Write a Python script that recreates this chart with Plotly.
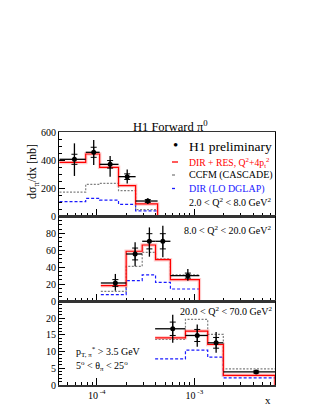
import math
import plotly.graph_objects as go
from plotly.subplots import make_subplots

# ---------------- data ----------------
# Panel 1: 2 < Q2 < 8 GeV2
p1_edges = [4.15e-5, 7.7e-5, 1.07e-4, 1.67e-4, 2.5e-4, 4.2e-4]
p1_x = [5.9e-5, 9.3e-5, 1.37e-4, 2.05e-4, 3.33e-4]
p1_data = [405, 455, 369, 281, 107]
p1_tot_up = [114, 88, 60, 52, 19]
p1_tot_dn = [119, 91, 88, 48, 21]
p1_stat = [36, 36, 27, 20, 10]
p1_red = [383, 443, 348, 217, 86]
p1_ccfm = [171, 226, 233, 181, 45]
p1_dglap = [102, 126, 114, 83, 36]

# Panel 2: 8 < Q2 < 20 GeV2
p2_edges = [1.1e-4, 2.0e-4, 2.92e-4, 4.0e-4, 5.68e-4, 1.125e-3]
p2_x = [1.55e-4, 2.47e-4, 3.46e-4, 4.75e-4, 8.57e-4]
p2_data = [21.3, 55.6, 70.6, 70.6, 30.0]
p2_tot_up = [10.7, 13.8, 16.4, 18.4, 7.9]
p2_tot_dn = [9.1, 14.6, 18.2, 18.9, 6.0]
p2_stat = [4, 7, 9, 9, 3]
p2_red = [18.1, 58.8, 66.2, 48.9, 25.2]
p2_ccfm = [11.4, 41.0, 57.6, 49.7, 30.8]
p2_dglap = [7.5, 24.0, 30.8, 22.0, 14.2]

# Panel 3: 20 < Q2 < 70 GeV2
p3_edges = [3.96e-4, 8.1e-4, 1.37e-3, 1.98e-3, 6.7e-3]
p3_x = [6.0e-4, 1.07e-3, 1.67e-3, 4.3e-3]
p3_data = [16.8, 14.8, 12.6, 3.9]
p3_tot_up = [4.2, 3.3, 3.2, 0.6]
p3_tot_dn = [4.2, 3.4, 3.0, 0.6]
p3_stat = [2.0, 1.8, 1.6, 0.3]
p3_red = [14.1, 16.1, 12.1, 2.9]
p3_ccfm = [13.6, 19.6, 15.1, 4.8]
p3_dglap = [7.8, 10.4, 8.3, 2.1]

y_ranges = [[0, 600], [0, 100.5], [0, 25.1]]
y_ticks = [[0, 200, 400, 600], [0, 20, 40, 60, 80], [0, 5, 10, 15, 20]]
y_minor = [50, 5, 1]
q2_labels = ["2.0 < Q<sup>2</sup> < 8.0 GeV<sup>2</sup>",
             "8.0 < Q<sup>2</sup> < 20.0 GeV<sup>2</sup>",
             "20.0 < Q<sup>2</sup> < 70.0 GeV<sup>2</sup>"]

FONT = "Liberation Serif"
W, H = 321, 415
L, R, T, B = 59, 275, 132, 385
X_LO, X_HI = 4.1e-5, 6.7e-3

fig = make_subplots(rows=3, cols=1, shared_xaxes=True, vertical_spacing=0)

panels = [
    (p1_edges, p1_x, p1_data, p1_tot_up, p1_tot_dn, p1_stat, p1_red, p1_ccfm, p1_dglap),
    (p2_edges, p2_x, p2_data, p2_tot_up, p2_tot_dn, p2_stat, p2_red, p2_ccfm, p2_dglap),
    (p3_edges, p3_x, p3_data, p3_tot_up, p3_tot_dn, p3_stat, p3_red, p3_ccfm, p3_dglap),
]


def step_xy(edges, vals, drop=True):
    xs = list(edges)
    ys = list(vals) + [vals[-1]]
    if drop:
        xs = xs + [edges[-1]]
        ys = ys + [0]
    return xs, ys


for i, (edges, xs, d, up, dn, st, red, ccfm, dglap) in enumerate(panels):
    row = i + 1
    # dglap (blue)
    sx, sy = step_xy(edges, dglap, drop=False)
    fig.add_trace(go.Scatter(x=sx, y=sy, mode="lines", line_shape="hv",
                             line=dict(color="#1a1aff", width=1.2, dash="3px,2px"),
                             hoverinfo="skip", showlegend=False), row=row, col=1)
    # ccfm (gray)
    sx, sy = step_xy(edges, ccfm, drop=False)
    fig.add_trace(go.Scatter(x=sx, y=sy, mode="lines", line_shape="hv",
                             line=dict(color="#808080", width=1.2, dash="2px,1.5px"),
                             hoverinfo="skip", showlegend=False), row=row, col=1)
    # red band + line
    sx, sy = step_xy(edges, red, drop=True)
    fig.add_trace(go.Scatter(x=sx, y=sy, mode="lines", line_shape="hv",
                             line=dict(color="rgba(255,90,90,0.3)", width=3.5),
                             hoverinfo="skip", showlegend=False), row=row, col=1)
    fig.add_trace(go.Scatter(x=sx, y=sy, mode="lines", line_shape="hv",
                             line=dict(color="#ff0000", width=1.2),
                             hoverinfo="skip", showlegend=False), row=row, col=1)
    # data: total errors + full-bin horizontal bars
    ex_minus = [x - edges[j] for j, x in enumerate(xs)]
    ex_plus = [edges[j + 1] - x for j, x in enumerate(xs)]
    fig.add_trace(go.Scatter(
        x=xs, y=d, mode="markers",
        marker=dict(color="black", size=5, symbol="circle"),
        error_y=dict(type="data", symmetric=False, array=up, arrayminus=dn,
                     color="black", thickness=1.3, width=0),
        error_x=dict(type="data", symmetric=False, array=ex_plus, arrayminus=ex_minus,
                     color="black", thickness=1.3, width=0),
        hoverinfo="skip", showlegend=False), row=row, col=1)
    # stat error ticks
    fig.add_trace(go.Scatter(
        x=xs, y=d, mode="markers", marker=dict(size=1, color="black"),
        error_y=dict(type="data", array=st, color="black", thickness=1, width=3),
        hoverinfo="skip", showlegend=False), row=row, col=1)

# axes
h = B - T
dom = [((B - 216) / h, 1.0), ((B - 301) / h, (B - 216) / h), (0.0, (B - 301) / h)]
minor_x = [k * 10 ** e for e in range(-5, -1) for k in range(2, 10)
           if X_LO < k * 10 ** e < X_HI]
for i in range(3):
    row = i + 1
    fig.update_yaxes(row=row, col=1, domain=list(dom[i]), range=y_ranges[i],
                     tickvals=y_ticks[i], ticks="inside", ticklen=6, tickcolor="black",
                     minor=dict(dtick=y_minor[i], ticks="inside", ticklen=3, tickcolor="black"),
                     showline=True, linecolor="black", linewidth=1, mirror=True,
                     showgrid=False, zeroline=False,
                     tickfont=dict(family=FONT, size=10, color="black"))
    fig.update_xaxes(row=row, col=1, type="log",
                     range=[math.log10(X_LO), math.log10(X_HI)],
                     tickvals=[1e-4, 1e-3],
                     ticktext=["10<sup> -4</sup>", "10<sup> -3</sup>"],
                     showticklabels=(row == 3),
                     ticks="inside", ticklen=7, tickcolor="black",
                     minor=dict(tickvals=minor_x, ticks="inside", ticklen=3, tickcolor="black"),
                     showline=True, linecolor="#333333", linewidth=1.5, mirror=True,
                     showgrid=False, zeroline=False,
                     tickfont=dict(family=FONT, size=10, color="black"))


def px(x):
    return (x - L) / (R - L)


def py(y):
    return (B - y) / (B - T)


ann = []


def text(x, y, s, size=10, color="black", anchor="left", angle=0):
    ann.append(dict(x=px(x), y=py(y), xref="paper", yref="paper", text=s,
                    showarrow=False, xanchor=anchor, yanchor="middle", textangle=angle,
                    font=dict(family=FONT, size=size, color=color)))


text(170, 126, "H1 Forward π<sup>0</sup>", size=12.5, anchor="center")
text(33, 172, "dσ<sub>π</sub>/dx [nb]", size=12, anchor="center", angle=-90)
text(268, 400, "x", size=11, anchor="center")
text(175, 145, "•", size=15, anchor="center")
text(187, 146, "H1 preliminary", size=13.5)
text(187, 162, "DIR + RES, Q<sup>2</sup>+4p<sub>t</sub><sup>2</sup>", size=9.7, color="#ff0000")
text(187, 175, "CCFM (CASCADE)", size=10)
text(187, 188.5, "DIR (LO DGLAP)", size=10, color="#1a1aff")
text(273, 202, q2_labels[0], size=10, anchor="right")
text(273, 230, q2_labels[1], size=10, anchor="right")
text(274, 311, q2_labels[2], size=10, anchor="right")
text(74, 352, "p<sub>T, π</sub><sup>*</sup> > 3.5 GeV", size=10)
text(74, 366, "5<sup>o</sup> < θ<sub>π</sub> < 25<sup>o</sup>", size=10)

shapes = []
for yy, col, dash in [(162, "#ff0000", "solid"), (175, "#808080", "dot"), (188.5, "#1a1aff", "dot")]:
    shapes.append(dict(type="line", xref="paper", yref="paper",
                       x0=px(172), x1=px(178), y0=py(yy), y1=py(yy),
                       line=dict(color=col, width=1.3, dash=dash)))

fig.update_layout(width=W, height=H,
                  margin=dict(l=L, r=W - R, t=T, b=H - B, pad=0),
                  paper_bgcolor="white", plot_bgcolor="white",
                  annotations=ann, shapes=shapes, showlegend=False,
                  font=dict(family=FONT, size=10, color="black"))

fig.write_html("out.html", config={"displayModeBar": False, "staticPlot": True},
               post_script="document.body.style.margin='0px';document.body.style.overflow='hidden';")
